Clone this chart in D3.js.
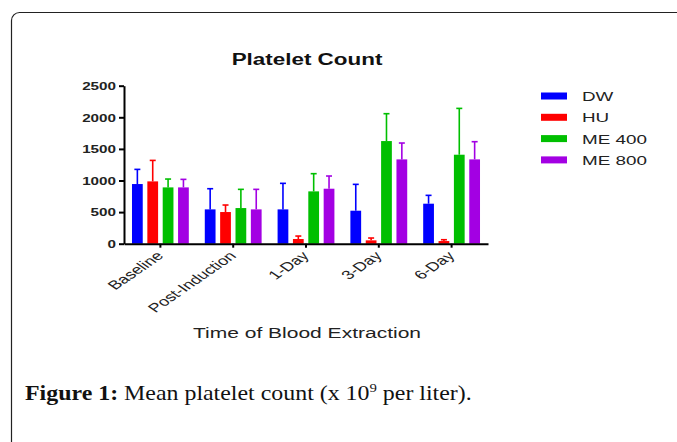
<!DOCTYPE html>
<html lang="en">
<head>
  <meta charset="UTF-8">
  <title>Platelet Count</title>
  <style>
    body { margin: 0; background: #fff; }
    svg  { display: block; font-family: Arial, "Liberation Sans", sans-serif; }
    .axis path, .axis line { stroke: #000; stroke-width: 2px; }
    .ylab text { font-size: 10.5px; font-weight: bold; fill: #222; }
    .xlab text { font-size: 12.5px; fill: #222; }
    .caption { font-family: "Liberation Serif", "DejaVu Serif", serif; font-size: 21px; fill: #111; }
  </style>
</head>
<body>
  <svg id="chart" width="677" height="442"></svg>

  <script src="https://d3js.org/d3.v7.min.js"></script>
  <script>
    /* ---------- data ---------- */
    const categories = ['Baseline', 'Post-Induction', '1-Day', '3-Day', '6-Day'];
    const series     = ['DW', 'HU', 'ME 400', 'ME 800'];
    const colors     = ['#0000ff', '#ff0000', '#00bf00', '#a300e3'];

    // mean values
    const dwMean    = [944, 543, 543, 522, 633];
    const huMean    = [986, 501,  74,  53,  42];
    const me400Mean = [891, 564, 828, 1624, 1408];
    const me800Mean = [891, 543, 870, 1334, 1334];

    // upper error (SD)
    const dwSd    = [232, 327, 412, 417, 132];
    const huSd    = [332, 111,  47,  37,  21];
    const me400Sd = [132, 296, 280, 433, 733];
    const me800Sd = [127, 317, 201, 259, 280];

    const yTicks = [0, 500, 1000, 1500, 2000, 2500];

    const means = [dwMean, huMean, me400Mean, me800Mean];
    const sds   = [dwSd, huSd, me400Sd, me800Sd];

    // flat rows for drawing
    const rows = [];
    categories.forEach((c, i) => {
      series.forEach((s, j) => {
        rows.push({ cat: c, ser: s, mean: means[j][i], sd: sds[j][i], color: colors[j] });
      });
    });

    /* ---------- scales ---------- */
    const sx = 1.45;   // the source figure is stretched horizontally
    const svg = d3.select('#chart');

    const x0 = d3.scaleBand().domain(categories).range([124, 488]);
    const x1 = d3.scaleBand().domain(series).range([0, x0.bandwidth()])
                 .paddingInner(0.3).paddingOuter(0.52);
    const y  = d3.scaleLinear().domain([0, 2500]).range([243.7, 85.7]);

    /* ---------- frame ---------- */
    svg.append('rect')
       .attr('x', 11.5).attr('y', 12.5)
       .attr('width', 720).attr('height', 480)
       .attr('rx', 8)
       .attr('fill', 'none').attr('stroke', '#222').attr('stroke-width', 1.2);

    /* ---------- title ---------- */
    svg.append('text')
       .attr('transform', `translate(307,65) scale(1.32,1)`)
       .attr('text-anchor', 'middle')
       .style('font-size', '17px').style('font-weight', 'bold').style('fill', '#111')
       .text('Platelet Count');

    /* ---------- bars ---------- */
    svg.selectAll('rect.bar')
       .data(rows)
       .enter().append('rect')
       .attr('class', 'bar')
       .attr('x', d => x0(d.cat) + x1(d.ser))
       .attr('y', d => y(d.mean))
       .attr('width', x1.bandwidth())
       .attr('height', d => y(0) - y(d.mean))
       .attr('fill', d => d.color);

    // error bars (upper only, with cap)
    const cap = 3;
    const eb = svg.selectAll('g.err')
       .data(rows)
       .enter().append('g')
       .attr('class', 'err')
       .attr('stroke', d => d.color)
       .attr('stroke-width', 1.6);

    eb.append('line')
      .attr('x1', d => x0(d.cat) + x1(d.ser) + x1.bandwidth() / 2)
      .attr('x2', d => x0(d.cat) + x1(d.ser) + x1.bandwidth() / 2)
      .attr('y1', d => y(d.mean))
      .attr('y2', d => y(d.mean + d.sd));

    eb.append('line')
      .attr('x1', d => x0(d.cat) + x1(d.ser) + x1.bandwidth() / 2 - cap)
      .attr('x2', d => x0(d.cat) + x1(d.ser) + x1.bandwidth() / 2 + cap)
      .attr('y1', d => y(d.mean + d.sd))
      .attr('y2', d => y(d.mean + d.sd));

    /* ---------- axes ---------- */
    const gy = svg.append('g')
       .attr('class', 'axis ylab')
       .attr('transform', 'translate(124,0)')
       .call(d3.axisLeft(y).tickValues(yTicks).tickSize(5).tickSizeOuter(0).tickFormat(d3.format('d')));
    gy.selectAll('text')
      .attr('x', 0).attr('dy', '0.36em')
      .attr('transform', `translate(-8,0) scale(${sx},1)`);

    const gx = svg.append('g')
       .attr('class', 'axis xlab')
       .attr('transform', `translate(0,${y(0)})`)
       .call(d3.axisBottom(x0).tickSize(4).tickSizeOuter(0));
    gx.selectAll('text')
      .attr('x', 0).attr('y', 0).attr('dy', 0)
      .attr('text-anchor', 'end')
      .attr('transform', `translate(4,13) scale(${sx},1) rotate(-45)`);

    /* ---------- axis title ---------- */
    svg.append('text')
       .attr('transform', `translate(307,338) scale(${sx},1)`)
       .attr('text-anchor', 'middle')
       .style('font-size', '14.5px').style('fill', '#222')
       .text('Time of Blood Extraction');

    /* ---------- legend ---------- */
    const lg = svg.selectAll('g.legend')
       .data(series)
       .enter().append('g')
       .attr('class', 'legend')
       .attr('transform', (d, i) => `translate(541,${96 + i * 21.3})`);

    lg.append('rect')
      .attr('x', 0).attr('y', -3.5)
      .attr('width', 26).attr('height', 7)
      .attr('fill', (d, i) => colors[i]);

    lg.append('text')
      .attr('transform', `translate(41,5) scale(${sx},1)`)
      .style('font-size', '13px').style('fill', '#222')
      .text(d => d);

    /* ---------- caption ---------- */
    const cap1 = svg.append('text')
       .attr('class', 'caption')
       .attr('x', 0).attr('y', 0);
    cap1.append('tspan').style('font-weight', 'bold').text('Figure 1:');
    cap1.append('tspan').text(' Mean platelet count (x 10');
    cap1.append('tspan').attr('dy', -8).style('font-size', '13px').text('9');
    cap1.append('tspan').attr('dy', 8).text(' per liter).');
    // stretch caption to the width it has in the figure (25 → 472)
    const cw = cap1.node().getBBox().width;
    cap1.attr('transform', `translate(25,400) scale(${447 / cw},1)`);
  </script>
</body>
</html>
